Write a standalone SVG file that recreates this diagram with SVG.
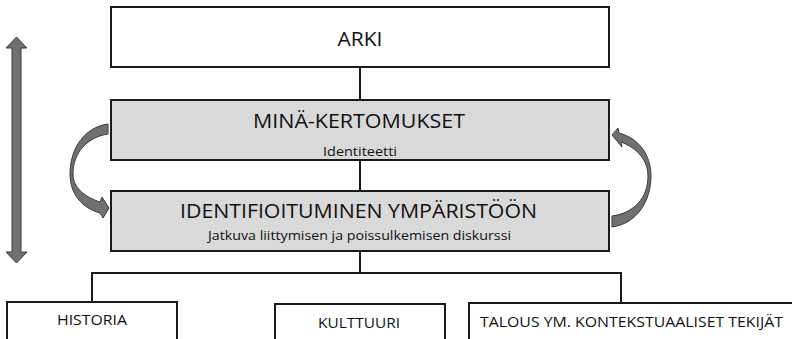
<svg xmlns="http://www.w3.org/2000/svg" width="792" height="339" viewBox="0 0 792 339">
<style>
.box{fill:#ffffff;stroke:#1a1a1a;stroke-width:2}
.grey{fill:#d9d9d9}
.t{font-family:"Open Sans","Noto Sans",sans-serif;fill:#111;text-anchor:middle}
.big{font-size:20px}
.sm{font-size:13.5px}
.lf{font-size:15px}
.con{fill:none;stroke:#1a1a1a;stroke-width:2}
.arr{fill:#707070;stroke:#3a3a3a;stroke-width:1}
</style>
<rect width="792" height="339" fill="#ffffff"/>
<g id="connectors">
<line class="con" x1="360" y1="67" x2="360" y2="100"/>
<line class="con" x1="360" y1="160" x2="360" y2="191"/>
<line class="con" x1="360" y1="251" x2="360" y2="273"/>
<polyline class="con" points="92,302 92,273 621,273 621,303"/>
<path class="arr" d="M16.5 37 L27 48 L21 48 L21 252 L27 252 L16.5 263 L6 252 L12 252 L12 48 L6 48 Z"/>
<path class="arr" d="M108 124 C85 127 70 148 70 174 C70 194 82 208 100 213 L103 218 L109 208 L102 197 L100 202 C85 197 73 188 73 174 C73 152 88 137 108 134 Z"/>
<path class="arr" d="M612 227 C636 224 651 202 651 176 C651 154 638 138 619 133 L618 128 L612 135 L622 147 L621 142 C637 148 648 160 648 176 C648 198 634 213 612 216 Z"/>
</g>
<g id="arki">
<rect class="box" x="111" y="7" width="498" height="60"/>
<text class="t big" x="360" y="46" textLength="45" lengthAdjust="spacingAndGlyphs">ARKI</text>
</g>
<g id="mina">
<rect class="box grey" x="111" y="100" width="498" height="60"/>
<text class="t big" x="359" y="128" textLength="212" lengthAdjust="spacingAndGlyphs">MINÄ-KERTOMUKSET</text>
<text class="t sm" x="360" y="156" textLength="74" lengthAdjust="spacingAndGlyphs">Identiteetti</text>
</g>
<g id="identif">
<rect class="box grey" x="111" y="191" width="498" height="60"/>
<text class="t big" x="358.5" y="218" textLength="357" lengthAdjust="spacingAndGlyphs">IDENTIFIOITUMINEN YMPÄRISTÖÖN</text>
<text class="t sm" x="359.5" y="240" textLength="303" lengthAdjust="spacingAndGlyphs">Jatkuva liittymisen ja poissulkemisen diskurssi</text>
</g>
<g id="historia">
<rect class="box" x="7" y="302" width="170" height="50"/>
<text class="t lf" x="92" y="325" textLength="70" lengthAdjust="spacingAndGlyphs">HISTORIA</text>
</g>
<g id="kulttuuri">
<rect class="box" x="275" y="304" width="170" height="50"/>
<text class="t lf" x="359" y="328" textLength="82" lengthAdjust="spacingAndGlyphs">KULTTUURI</text>
</g>
<g id="talous">
<rect class="box" x="469" y="303" width="340" height="50"/>
<text class="t lf" x="631.5" y="327" textLength="303" lengthAdjust="spacingAndGlyphs">TALOUS YM. KONTEKSTUAALISET TEKIJÄT</text>
</g>
</svg>
